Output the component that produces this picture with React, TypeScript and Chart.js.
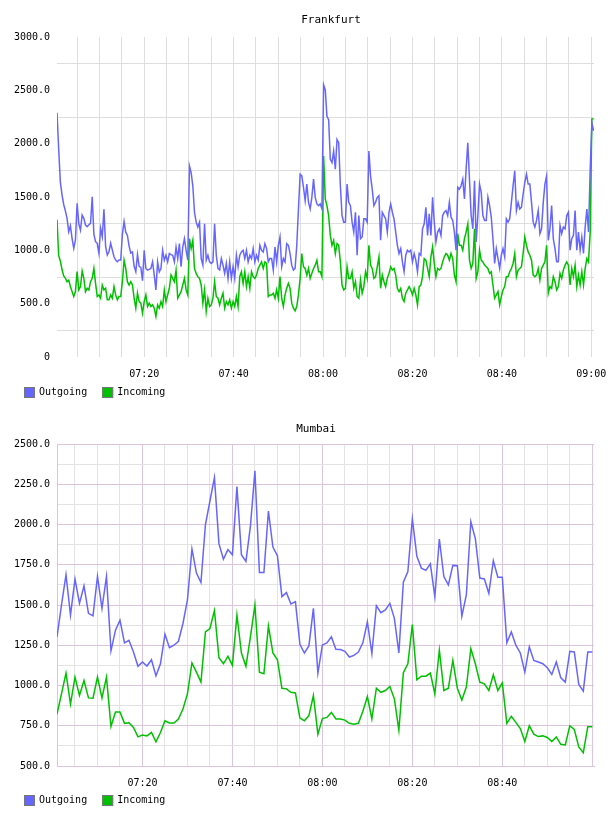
import { useEffect, useRef } from "react";
import { Chart, registerables } from "chart.js";

Chart.register(...registerables);

const FONT = '"DejaVu Sans Mono", monospace';
const BLUE = "#6666ff";
const GREEN = "#00c000";
const GRID = "#dedede";
const GRID_MAJOR = "#dcc4dc";
const GRID_MINOR = "#e3e3e3";

const seriesNames = ["Outgoing", "Incoming"];

// Frankfurt: one sample every 22.5 s, first sample at 07:00:30 (minutes after 07:00)
const fraStartMin = 0.5;
const fraStepMin = 0.375;

const fraOutgoing = [
  2290, 1950, 1640, 1520, 1430, 1370, 1300, 1175, 1230, 1110,
  1019, 1097, 1441, 1250, 1190, 1331, 1300, 1237, 1222, 1240,
  1253, 1503, 1150, 1081, 1066, 972, 1206, 1128, 1385, 1034,
  956, 987, 1066, 1003, 940, 909, 893, 909, 909, 1150,
  1270, 1170, 1140, 1040, 975, 985, 850, 800, 960, 850,
  840, 715, 1000, 830, 815, 822, 830, 892, 768, 629,
  892, 799, 830, 1000, 908, 954, 892, 970, 960, 954,
  892, 1031, 923, 1063, 846, 1031, 1109, 1000, 908, 1791,
  1729, 1605, 1357, 1264, 1218, 1264, 923, 861, 1249, 908,
  954, 892, 877, 892, 1249, 954, 830, 815, 923, 861,
  784, 877, 737, 892, 737, 846, 737, 954, 846, 954,
  985, 1000, 923, 1000, 892, 954, 923, 1016, 892, 954,
  908, 1047, 1000, 985, 1063, 1016, 892, 923, 923, 815,
  1031, 892, 1047, 1125, 846, 923, 892, 1063, 1047, 970,
  861, 815, 830, 1047, 1388, 1714, 1698, 1590, 1466, 1621,
  1450, 1388, 1497, 1667, 1497, 1435, 1419, 1435, 1388,
  2551, 2504, 2256, 2225, 1853, 1822, 1931, 1760, 2039, 2008,
  1605, 1326, 1264, 1264, 1621, 1450, 1419, 1264, 1171, 1357,
  954, 1326, 1109, 1125, 1295, 1295, 1264, 1931, 1698, 1574,
  1419, 1450, 1497, 1512, 1094, 1357, 1326, 1295, 1171, 1357,
  1435, 1357, 1295, 1171, 1047, 970, 1016, 892, 799, 954,
  1001, 985, 1001, 892, 970, 908, 799, 970, 954, 1202,
  1249, 1404, 1140, 1342, 1140, 1497, 1264, 1078, 1171,
  1202, 1140, 1326, 1357, 1373, 1326, 1450, 1311, 1280, 1171,
  1001, 1590, 1574, 1605, 1667, 1481, 1760, 2008, 1667, 1326,
  1202, 1652, 1078, 1326, 1621, 1543, 1326, 1280, 1280, 1497,
  1419, 1311, 1109, 877, 1016, 923, 830, 954, 1016, 939,
  1295, 1264, 1295, 1450, 1605, 1745, 1373, 1450, 1388, 1404,
  1528, 1636, 1714, 1621, 1621, 1450, 1264, 1218, 1280, 1373,
  1156, 1202, 1450, 1621, 1698, 1094, 1202, 1419, 1109, 1016,
  892, 892, 1233, 1156, 1218, 1202, 1326, 1357, 1001, 1109,
  1140, 1373, 1001, 1171, 1001, 1125, 970, 1218, 1388, 1171,
  1760, 2194, 2120,
];

const fraIncoming = [
  1289, 950, 900, 820, 760, 740, 706, 720, 660, 613,
  567, 613, 800, 629, 660, 806, 737, 613, 644, 629,
  706, 737, 830, 691, 567, 582, 551, 675, 629, 644,
  536, 536, 582, 551, 660, 582, 536, 567, 567, 706,
  908, 830, 706, 675, 706, 675, 551, 458, 600, 520,
  505, 412, 520, 582, 474, 505, 474, 489, 458, 381,
  489, 458, 520, 474, 629, 520, 582, 644, 768, 737,
  706, 815, 551, 582, 613, 675, 737, 629, 582, 1109,
  1016, 1094, 830, 784, 753, 737, 675, 505, 629, 427,
  551, 474, 489, 551, 706, 567, 551, 489, 551, 598,
  458, 520, 489, 536, 458, 520, 474, 567, 474, 753,
  799, 691, 799, 660, 753, 644, 799, 753, 737, 768,
  830, 861, 892, 830, 892, 877, 567, 582, 582, 598,
  551, 629, 551, 753, 551, 474, 582, 644, 691, 644,
  505, 458, 433, 474, 582, 737, 970, 846, 830, 768,
  830, 737, 784, 830, 861, 908, 799, 799, 753,
  1884, 1481, 1419, 1326, 1140, 1047, 1094, 970, 1063, 1047,
  892, 675, 629, 644, 846, 737, 737, 799, 644, 706,
  567, 551, 722, 598, 660, 799, 737, 1047, 861, 830,
  737, 753, 846, 939, 644, 768, 706, 660, 737, 784,
  846, 815, 830, 768, 644, 613, 644, 551, 520, 598,
  629, 660, 629, 582, 644, 582, 489, 660, 675, 753,
  923, 908, 830, 753, 939, 1032, 877, 753, 830,
  815, 830, 892, 939, 970, 954, 908, 970, 923, 768,
  706, 1156, 1047, 1047, 1001, 1109, 1171, 1249, 908, 830,
  877, 1202, 737, 799, 1001, 908, 892, 861, 846, 830,
  784, 799, 675, 551, 582, 613, 489, 567, 629, 660,
  753, 753, 799, 830, 877, 970, 753, 815, 830, 846,
  970, 1125, 1047, 985, 954, 908, 768, 753, 768, 830,
  722, 830, 861, 892, 1047, 598, 660, 644, 753, 706,
  629, 660, 784, 737, 815, 861, 892, 861, 675, 830,
  753, 861, 660, 768, 675, 799, 675, 830, 923, 892,
  1171, 2231, 2234,
];

// Mumbai: one sample per minute from 07:01 to 09:00
const bomStartMin = 1;
const bomStepMin = 1;

const bomOutgoing = [
  1302, 1500, 1688, 1437, 1660, 1510, 1619, 1448, 1433, 1677,
  1479, 1677, 1215, 1344, 1406, 1265, 1281, 1208, 1119, 1146,
  1121, 1160, 1060, 1135, 1319, 1235, 1250, 1275, 1385, 1531,
  1848, 1698, 1640, 2000, 2146, 2292, 1881, 1785, 1844, 1812,
  2235, 1812, 1771, 1990, 2333, 1702, 1702, 2083, 1860, 1806,
  1552, 1577, 1506, 1521, 1256, 1202, 1246, 1479, 1077, 1252,
  1265, 1302, 1225, 1223, 1212, 1177, 1187, 1208, 1265, 1396,
  1198, 1496, 1452, 1469, 1510, 1417, 1202, 1642, 1708, 2035,
  1802, 1729, 1715, 1756, 1552, 1910, 1677, 1625, 1746, 1744,
  1431, 1562, 2017, 1912, 1667, 1662, 1573, 1775, 1673, 1673,
  1265, 1333, 1250, 1202, 1083, 1240, 1156, 1146, 1135, 1110,
  1069, 1146, 1048, 1021, 1212, 1208, 1006, 965, 1208, 1208,
];

const bomIncoming = [
  823, 948, 1077, 885, 1052, 938, 1031, 923, 921, 1052,
  923, 1052, 746, 835, 835, 765, 769, 740, 681, 692,
  687, 708, 650, 708, 781, 767, 767, 792, 854, 948,
  1140, 1083, 1021, 1333, 1354, 1465, 1173, 1135, 1181, 1125,
  1437, 1202, 1119, 1302, 1500, 1083, 1073, 1369, 1202, 1160,
  983, 979, 958, 954, 798, 781, 813, 938, 698, 795,
  802, 833, 792, 792, 785, 765, 760, 765, 840, 931,
  792, 983, 958, 969, 994, 917, 723, 1079, 1135, 1379,
  1035, 1058, 1058, 1077, 948, 1219, 969, 983, 1156, 983,
  910, 990, 1229, 1135, 1021, 1010, 969, 1067, 969, 1017,
  765, 808, 771, 733, 652, 750, 698, 683, 687, 677,
  652, 681, 635, 631, 750, 727, 619, 583, 744, 744,
];

const isMultiple = (v: number, step: number) => Math.abs(v / step - Math.round(v / step)) < 1e-6;

const clockLabel = (minutes: number) => {
  const total = 7 * 60 + Math.round(minutes);
  const h = Math.floor(total / 60);
  const m = total % 60;
  return `${String(h).padStart(2, "0")}:${String(m).padStart(2, "0")}`;
};

const range = (from: number, to: number, step: number) => {
  const out: number[] = [];
  for (let v = from; v <= to + 1e-9; v += step) out.push(v);
  return out;
};

type PanelSpec = {
  title: string;
  titleX: number;
  titleY: number;
  outgoing: number[];
  incoming: number[];
  start: number;
  step: number;
  xMin: number;
  xMax: number;
  xLabelLast: number;
  yMin: number;
  yMax: number;
  yStep: number;
  yLabelStep: number;
  zeroPlain: boolean;
  padTop: number;
  padBottom: number;
  xGridColor: (v: number) => string;
  yGridColor: (v: number) => string;
  frame: boolean;
};

const frankfurt: PanelSpec = {
  title: "Frankfurt",
  titleX: 331,
  titleY: 20,
  outgoing: fraOutgoing,
  incoming: fraIncoming,
  start: fraStartMin,
  step: fraStepMin,
  xMin: 0.5,
  xMax: 120.6,
  xLabelLast: 120,
  yMin: 0,
  yMax: 3000,
  yStep: 250,
  yLabelStep: 500,
  zeroPlain: true,
  padTop: 37,
  padBottom: 23,
  xGridColor: () => GRID,
  yGridColor: (v) => (isMultiple(v, 500) ? "rgba(0,0,0,0)" : GRID),
  frame: false,
};

const mumbai: PanelSpec = {
  title: "Mumbai",
  titleX: 316,
  titleY: 21,
  outgoing: bomOutgoing,
  incoming: bomIncoming,
  start: bomStartMin,
  step: bomStepMin,
  xMin: 1,
  xMax: 120.38,
  xLabelLast: 100,
  yMin: 500,
  yMax: 2500,
  yStep: 125,
  yLabelStep: 250,
  zeroPlain: false,
  padTop: 36,
  padBottom: 22,
  xGridColor: (v) => (isMultiple(v, 20) ? GRID_MAJOR : GRID_MINOR),
  yGridColor: (v) => (isMultiple(v, 250) ? GRID_MAJOR : GRID_MINOR),
  frame: true,
};

// Title above the plot and a left-aligned legend row under the time axis
const decorations = {
  id: "decorations",
  afterDraw(chart: any, _args: any, opts: any) {
    const { ctx } = chart;
    ctx.save();
    ctx.fillStyle = "#000";
    ctx.textBaseline = "middle";
    ctx.textAlign = "center";
    ctx.font = `11px ${FONT}`;
    ctx.fillText(opts.title, opts.titleX, opts.titleY);

    ctx.font = `10px ${FONT}`;
    ctx.textAlign = "left";
    let x = 24;
    const y = 387;
    chart.data.datasets.forEach((ds: any) => {
      ctx.fillStyle = ds.borderColor;
      ctx.fillRect(x, y, 11, 11);
      ctx.strokeStyle = "#777";
      ctx.lineWidth = 1;
      ctx.strokeRect(x + 0.5, y + 0.5, 10, 10);
      ctx.fillStyle = "#000";
      const tx = x + 15;
      ctx.fillText(ds.label, tx, y + 5.5);
      x = tx + ctx.measureText(ds.label).width + 15;
    });
    ctx.restore();
  },
};

function buildConfig(spec: PanelSpec): any {
  const toPoints = (values: number[]) =>
    values.map((v, i) => ({ x: spec.start + i * spec.step, y: v }));
  const xTicks = range(5, 120, 5);
  const yTicks = range(spec.yMin, spec.yMax, spec.yStep);

  return {
    type: "line",
    data: {
      datasets: [
        { label: seriesNames[0], data: toPoints(spec.outgoing), borderColor: BLUE, backgroundColor: BLUE },
        { label: seriesNames[1], data: toPoints(spec.incoming), borderColor: GREEN, backgroundColor: GREEN },
      ],
    },
    options: {
      animation: false,
      responsive: false,
      maintainAspectRatio: false,
      devicePixelRatio: 1,
      events: [],
      layout: { padding: { top: spec.padTop, right: 14, bottom: spec.padBottom, left: 0 } },
      elements: {
        point: { radius: 0 },
        line: { borderWidth: 1.5, tension: 0, fill: false },
      },
      plugins: {
        legend: { display: false },
        title: { display: false },
        tooltip: { enabled: false },
        decorations: { title: spec.title, titleX: spec.titleX, titleY: spec.titleY },
      },
      scales: {
        x: {
          type: "linear",
          min: spec.xMin,
          max: spec.xMax,
          afterBuildTicks: (scale: any) => {
            scale.ticks = xTicks.map((value) => ({ value }));
          },
          afterFit: (scale: any) => {
            scale.height = 28;
            scale.paddingLeft = 0;
            scale.paddingRight = 0;
          },
          grid: {
            drawTicks: false,
            lineWidth: 1,
            color: (c: any) => spec.xGridColor(c.tick.value),
          },
          border: { display: spec.frame, color: GRID_MAJOR },
          ticks: {
            autoSkip: false,
            maxRotation: 0,
            padding: 11,
            color: "#000",
            font: { family: FONT, size: 10 },
            callback: (v: number) =>
              isMultiple(v, 20) && v <= spec.xLabelLast + 1e-6 ? clockLabel(v) : "",
          },
        },
        y: {
          type: "linear",
          min: spec.yMin,
          max: spec.yMax,
          afterBuildTicks: (scale: any) => {
            scale.ticks = yTicks.map((value) => ({ value }));
          },
          afterFit: (scale: any) => {
            scale.width = 57;
            scale.paddingTop = 0;
            scale.paddingBottom = 0;
          },
          grid: {
            drawTicks: false,
            lineWidth: 1,
            color: (c: any) => spec.yGridColor(c.tick.value),
          },
          border: { display: spec.frame, color: GRID_MAJOR },
          ticks: {
            autoSkip: false,
            padding: 7,
            color: "#000",
            font: { family: FONT, size: 10 },
            callback: (v: number) => {
              if (!isMultiple(v, spec.yLabelStep)) return "";
              if (v === 0 && spec.zeroPlain) return "0";
              return v.toFixed(1);
            },
          },
        },
      },
    },
    plugins: [decorations],
  };
}

function TrafficPanel({ spec }: { spec: PanelSpec }) {
  const canvasRef = useRef<HTMLCanvasElement>(null);
  useEffect(() => {
    const chart = new Chart(canvasRef.current as HTMLCanvasElement, buildConfig(spec));
    return () => chart.destroy();
  }, [spec]);
  return (
    <canvas
      ref={canvasRef}
      width={608}
      height={408}
      style={{ display: "block", width: 608, height: 408 }}
    />
  );
}

export default function App() {
  return (
    <div style={{ position: "absolute", left: 0, top: 0, width: 608, height: 816, background: "#fff" }}>
      <TrafficPanel spec={frankfurt} />
      <TrafficPanel spec={mumbai} />
    </div>
  );
}
